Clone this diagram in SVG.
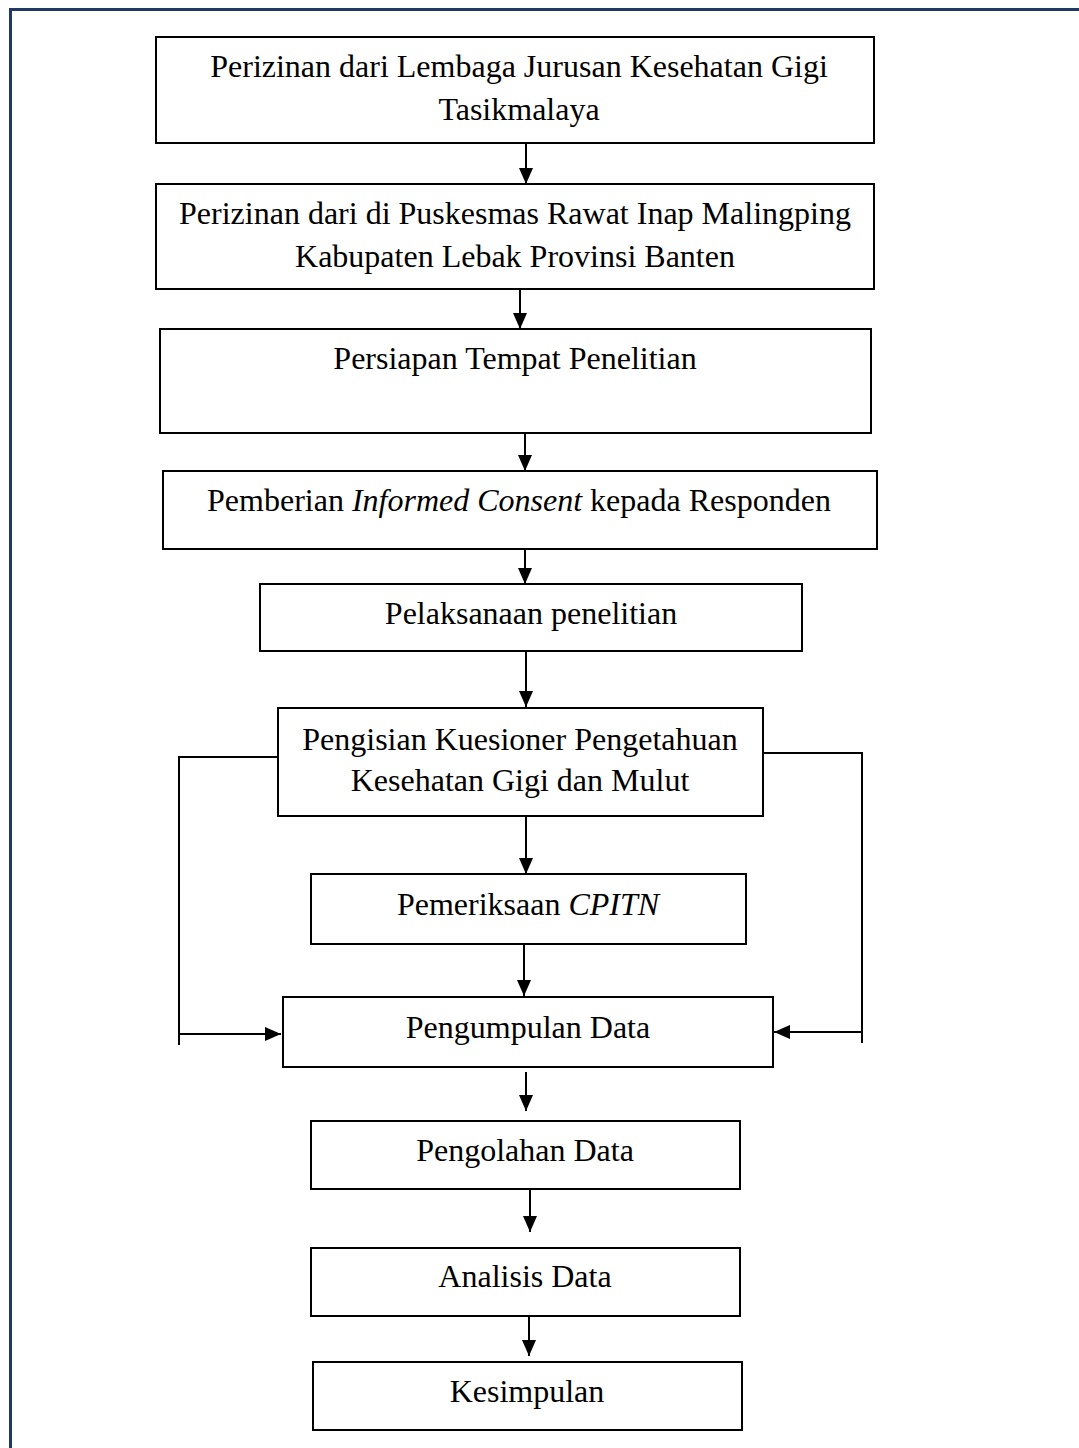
<svg xmlns="http://www.w3.org/2000/svg" width="1079" height="1448" viewBox="0 0 1079 1448">
<style>
.box{fill:#fff;stroke:#000;stroke-width:2}
.t{font-family:"Liberation Serif","Times New Roman",serif;font-size:32px;fill:#000;text-anchor:middle}
.c{fill:none;stroke:#000;stroke-width:2}
.i{font-style:italic}
</style>
<defs>
<marker id="ah" markerUnits="userSpaceOnUse" markerWidth="16" markerHeight="14" refX="16" refY="7" orient="auto">
<path d="M0,0 L16,7 L0,14 Z" fill="#000"/>
</marker>
</defs>
<rect x="0" y="0" width="1079" height="1448" fill="#fff"/>
<rect x="10.5" y="9.5" width="1100" height="1500" fill="none" stroke="#1F3864" stroke-width="3"/>

<g id="n1"><rect class="box" x="156" y="37" width="718" height="106"/>
<text class="t" x="519" y="77">Perizinan dari Lembaga Jurusan Kesehatan Gigi</text>
<text class="t" x="519" y="120">Tasikmalaya</text></g>

<g id="n2"><rect class="box" x="156" y="184" width="718" height="105"/>
<text class="t" x="515" y="224">Perizinan dari di Puskesmas Rawat Inap Malingping</text>
<text class="t" x="515" y="267">Kabupaten Lebak Provinsi Banten</text></g>

<g id="n3"><rect class="box" x="160" y="329" width="711" height="104"/>
<text class="t" x="515" y="369">Persiapan Tempat Penelitian</text></g>

<g id="n4"><rect class="box" x="163" y="471" width="714" height="78"/>
<text class="t" x="519" y="511">Pemberian <tspan class="i">Informed Consent</tspan> kepada Responden</text></g>

<g id="n5"><rect class="box" x="260" y="584" width="542" height="67"/>
<text class="t" x="531" y="624">Pelaksanaan penelitian</text></g>

<g id="n6"><rect class="box" x="278" y="708" width="485" height="108"/>
<text class="t" x="520" y="750">Pengisian Kuesioner Pengetahuan</text>
<text class="t" x="520" y="791">Kesehatan Gigi dan Mulut</text></g>

<g id="n7"><rect class="box" x="311" y="874" width="435" height="70"/>
<text class="t" x="528" y="915">Pemeriksaan <tspan class="i">CPITN</tspan></text></g>

<g id="n8"><rect class="box" x="283" y="997" width="490" height="70"/>
<text class="t" x="528" y="1038">Pengumpulan Data</text></g>

<g id="n9"><rect class="box" x="311" y="1121" width="429" height="68"/>
<text class="t" x="525" y="1161">Pengolahan Data</text></g>

<g id="n10"><rect class="box" x="311" y="1248" width="429" height="68"/>
<text class="t" x="525" y="1287">Analisis Data</text></g>

<g id="n11"><rect class="box" x="313" y="1362" width="429" height="68"/>
<text class="t" x="527" y="1402">Kesimpulan</text></g>

<g id="connectors">
<line class="c" x1="526" y1="143" x2="526" y2="184" marker-end="url(#ah)"/>
<line class="c" x1="520" y1="289" x2="520" y2="329" marker-end="url(#ah)"/>
<line class="c" x1="525" y1="433" x2="525" y2="471" marker-end="url(#ah)"/>
<line class="c" x1="525" y1="549" x2="525" y2="584" marker-end="url(#ah)"/>
<line class="c" x1="526" y1="651" x2="526" y2="707" marker-end="url(#ah)"/>
<line class="c" x1="526" y1="816" x2="526" y2="874" marker-end="url(#ah)"/>
<line class="c" x1="524" y1="944" x2="524" y2="996" marker-end="url(#ah)"/>
<line class="c" x1="526" y1="1072" x2="526" y2="1111" marker-end="url(#ah)"/>
<line class="c" x1="530" y1="1189" x2="530" y2="1232" marker-end="url(#ah)"/>
<line class="c" x1="529" y1="1316" x2="529" y2="1356" marker-end="url(#ah)"/>
<path class="c" d="M278,757 H179 V1045"/>
<line class="c" x1="179" y1="1034" x2="281" y2="1034" marker-end="url(#ah)"/>
<path class="c" d="M763,753 H862 V1043"/>
<line class="c" x1="862" y1="1032" x2="774" y2="1032" marker-end="url(#ah)"/>
</g>
</svg>
